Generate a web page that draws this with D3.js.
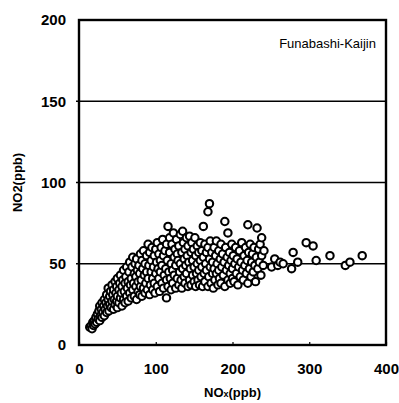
<!DOCTYPE html>
<html>
<head>
<meta charset="utf-8">
<script src="https://cdn.jsdelivr.net/npm/d3@7"></script>
<style>
  body { margin: 0; background: #fff; }
  svg { display: block; font-family: "Liberation Sans", Arial, sans-serif; }
</style>
</head>
<body>
<figure id="scatter" style="margin:0"></figure>
<script>
// NOx vs NO2 hourly values (ppb)
const samples = [
  [14,11],[16,12],[17,10],[18,14],[19,12],[20,15],[21,13],[22,17],[23,14],[24,19],[25,16],[26,21],[27,15],[27,24],[28,18],[29,22],[30,17],[30,26],
  [31,20],[32,24],[33,18],[33,28],[34,22],[35,26],[36,20],[36,31],[37,24],[38,28],[38,35],[39,21],[40,30],[40,25],[41,33],[42,23],[43,27],[43,37],[44,31],[45,22],[45,34],[46,28],[47,39],[47,25],[48,32],[49,36],[49,27],[50,41],[50,23],[50,30],
  [52,34],[52,26],[53,38],[54,29],[54,43],[55,32],[56,24],[56,36],[57,40],[58,28],[58,46],[59,33],[60,38],[60,26],[61,42],[62,30],[62,48],[63,35],[64,39],[64,27],[65,45],[66,32],[66,51],[67,37],[68,41],[68,29],[69,48],[70,34],[70,54],[71,38],[72,30],[72,44],[73,50],[74,36],[74,42],[75,28],[75,53],[76,46],[77,33],[77,39],[78,49],[79,31],[79,44],[80,56],[80,36],
  [81,40],[82,52],[82,30],[83,47],[84,35],[84,58],[85,43],[86,32],[86,50],[87,38],[88,55],[88,45],[89,34],[90,62],[90,41],[91,49],[92,31],[92,57],[93,37],[94,45],[94,52],[95,60],[96,34],[96,41],[97,48],[98,55],[98,38],[99,32],[100,44],[100,59],[101,51],[102,36],[102,63],[103,47],[104,41],[104,56],[105,33],[106,52],[106,45],[107,60],[108,38],[108,49],[109,65],[110,35],[110,55],[111,43],[112,58],[114,29],[113,47],[114,62],[114,40],[115,52],[116,73],[116,36],[117,45],[118,57],[118,66],[119,41],[120,50],[120,34],
  [121,62],[122,46],[122,38],[123,69],[124,54],[124,43],[125,59],[126,35],[126,49],[127,65],[128,41],[128,56],[129,52],[130,37],[130,61],[131,45],[132,68],[132,50],[133,40],[134,57],[134,35],[135,70],[135,47],[136,63],[137,53],[137,42],[138,38],[138,59],[139,49],[140,66],[140,44],[141,55],[142,36],[142,61],[143,51],[144,40],[144,67],[145,47],[146,57],[146,37],[147,63],[148,43],[148,52],[149,59],[150,39],[150,48],[151,66],[152,55],[152,36],[153,44],[154,61],[154,50],[155,40],[156,57],[156,46],[157,37],[158,63],[158,52],[159,42],[160,48],[160,58],
  [161,36],[162,73],[162,54],[163,44],[164,62],[164,39],[165,50],[166,57],[166,46],[168,82],[168,36],[168,60],[170,87],[169,42],[170,53],[171,64],[171,48],[172,38],[173,57],[174,44],[174,51],[175,35],[176,60],[176,47],[177,40],[178,55],[179,64],[179,44],[180,50],[181,37],[182,58],[182,46],[183,41],[184,53],[185,62],[185,38],[186,48],[187,56],[188,43],[189,51],[190,76],[190,36],[191,60],[192,46],[193,54],[194,69],[194,40],[195,49],[196,57],[197,38],[197,44],[198,52],[199,62],[200,47],[200,41],
  [201,55],[202,39],[203,50],[204,60],[205,44],[206,53],[207,37],[208,48],[209,58],[210,42],[211,51],[212,63],[213,46],[214,40],[215,55],[216,49],[217,60],[218,44],[219,52],[220,74],[220,38],[221,57],[222,47],[223,62],[224,42],[225,51],[226,56],[227,45],[228,60],[229,49],[230,39],[231,54],[232,72],[233,47],[234,59],[235,51],[236,62],[237,43],[238,66],[238,55],[240,49],[241,58],
  [251,48],[255,53],[259,49],[262,51],[266,50],[277,47],[279,57],[285,51],[296,63],[305,61],[309,52],[327,55],[347,49],[353,51],[369,55]
];

const xTicks = [0, 100, 200, 300, 400];
const yTicks = [0, 50, 100, 150, 200];
const gridValues = [50, 100, 150];
const siteName = "Funabashi-Kaijin";

const width = 399, height = 403;
const margin = { top: 20, right: 13, bottom: 58, left: 79 };
const w = width - margin.left - margin.right;
const h = height - margin.top - margin.bottom;

const svg = d3.select("figure#scatter")
  .append("svg")
  .attr("width", width)
  .attr("height", height);

const g = svg.append("g")
  .attr("transform", "translate(" + margin.left + "," + margin.top + ")");

const x = d3.scaleLinear().domain([0, 400]).range([0, w]);
const y = d3.scaleLinear().domain([0, 200]).range([h, 0]);

// horizontal grid
g.append("g")
  .selectAll("line")
  .data(gridValues)
  .join("line")
  .attr("x1", -3)
  .attr("x2", w)
  .attr("y1", d => y(d))
  .attr("y2", d => y(d))
  .attr("stroke", "#000")
  .attr("stroke-width", 1.5);

// points
g.append("g")
  .selectAll("circle")
  .data(samples)
  .join("circle")
  .attr("cx", d => x(d[0]))
  .attr("cy", d => y(d[1]))
  .attr("r", 3.7)
  .attr("fill", "#fff")
  .attr("stroke", "#000")
  .attr("stroke-width", 2.1);

// frame
g.append("rect")
  .attr("width", w)
  .attr("height", h)
  .attr("fill", "none")
  .attr("stroke", "#000")
  .attr("stroke-width", 2.4);

// x axis
const xAxis = g.append("g")
  .attr("transform", "translate(0," + h + ")")
  .call(d3.axisBottom(x).tickValues(xTicks).tickSize(-3).tickPadding(18));
xAxis.select(".domain").remove();
xAxis.selectAll("line").attr("stroke-width", 1.2);
xAxis.selectAll("text")
  .attr("font-size", 15)
  .attr("font-weight", "bold")
  .attr("fill", "#000");

// y axis
const yAxis = g.append("g")
  .call(d3.axisLeft(y).tickValues(yTicks).tickSize(0).tickPadding(13));
yAxis.select(".domain").remove();
yAxis.selectAll("text")
  .attr("font-size", 15)
  .attr("font-weight", "bold")
  .attr("fill", "#000");

// site label
g.append("text")
  .attr("x", w - 10)
  .attr("y", 28)
  .attr("text-anchor", "end")
  .attr("font-size", 13)
  .attr("fill", "#000")
  .text(siteName);

// axis titles
const xt = svg.append("text")
  .attr("x", margin.left + w / 2)
  .attr("y", 397)
  .attr("text-anchor", "middle")
  .attr("font-size", 13)
  .attr("font-weight", "bold");
xt.append("tspan").text("NO");
xt.append("tspan").attr("font-size", 9).text("x");
xt.append("tspan").text("(ppb)");

svg.append("text")
  .attr("transform", "translate(22," + (margin.top + h / 2) + ") rotate(-90)")
  .attr("text-anchor", "middle")
  .attr("font-size", 13)
  .attr("font-weight", "bold")
  .text("NO2(ppb)");
</script>
</body>
</html>
